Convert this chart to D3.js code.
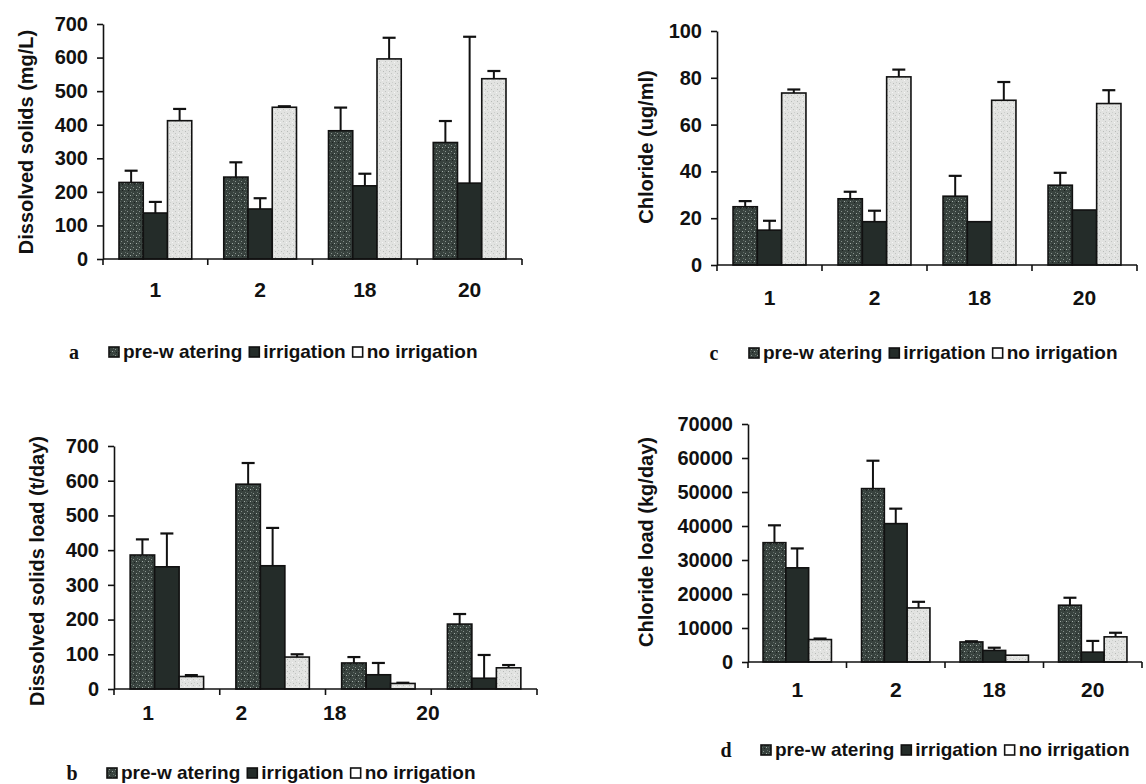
<!DOCTYPE html>
<html lang="en">
<head>
<meta charset="UTF-8">
<title>Dissolved solids and chloride at four stations</title>
<script src="https://d3js.org/d3.v7.min.js"></script>
<style>
  body { margin: 0; background: #fff; }
  text { font-family: "Liberation Sans", Arial, sans-serif; font-weight: bold; fill: #111; }
</style>
</head>
<body>
<div id="chart"></div>
<script>

// stations on the x axis and the three treatments
var stations = ["1", "2", "18", "20"];
var series = ["pre-watering", "irrigation", "no irrigation"];
var legendLabels = ["pre-w atering", "irrigation", "no irrigation"];

// a: dissolved solids (mg/L), mean and error bar length
var solidsPre = [228, 244, 382, 347];
var solidsPreErr = [35, 44, 69, 64];
var solidsIrr = [137, 149, 218, 226];
var solidsIrrErr = [33, 32, 36, 436];
var solidsNo = [412, 452, 596, 537];
var solidsNoErr = [35, 3, 63, 23];

// c: chloride (ug/ml)
var chlPre = [24.9, 28.3, 29.4, 34.1];
var chlPreErr = [2.4, 3.0, 8.7, 5.3];
var chlIrr = [14.9, 18.5, 18.5, 23.5];
var chlIrrErr = [4.0, 4.7, 0, 0];
var chlNo = [73.5, 80.4, 70.4, 69.0];
var chlNoErr = [1.5, 3.1, 7.8, 5.7];

// b: dissolved solids load (t/day)
var loadPre = [386, 590, 75, 187];
var loadPreErr = [45, 61, 17, 29];
var loadIrr = [352, 355, 41, 31];
var loadIrrErr = [96, 109, 34, 67];
var loadNo = [36, 92, 16, 61];
var loadNoErr = [4, 8, 2, 8];

// d: chloride load (kg/day)
var chlLoadPre = [35100, 51000, 5900, 16700];
var chlLoadPreErr = [5100, 8200, 200, 2200];
var chlLoadIrr = [27700, 40700, 3400, 2900];
var chlLoadIrrErr = [5700, 4400, 800, 3300];
var chlLoadNo = [6600, 15900, 2000, 7400];
var chlLoadNoErr = [300, 1800, 0, 1200];

var width = 1146, height = 784;

var svg = d3.select("#chart")
    .append("svg")
    .attr("width", width)
    .attr("height", height);

// speckled fills, like the scanned print
var defs = svg.append("defs");

function speckle(id, base, dots) {
    var p = defs.append("pattern")
        .attr("id", id)
        .attr("width", 6)
        .attr("height", 6)
        .attr("patternUnits", "userSpaceOnUse");
    p.append("rect").attr("width", 6).attr("height", 6).attr("fill", base);
    dots.forEach(function (d) {
        p.append("rect")
            .attr("x", d[0]).attr("y", d[1])
            .attr("width", 1).attr("height", 1)
            .attr("fill", d[2]);
    });
}

speckle("preFill", "#38423e", [[1, 1, "#8a948f"], [4, 3, "#a3ada8"], [2, 4, "#1c2220"], [5, 0, "#626d68"], [0, 3, "#56605b"]]);
speckle("noFill", "#e2e3e1", [[1, 1, "#c2c4c2"], [4, 2, "#f5f5f5"], [2, 4, "#cdd0cd"], [5, 5, "#b8bbb8"]]);

var fills = {"pre-watering": "url(#preFill)", "irrigation": "#242c29", "no irrigation": "url(#noFill)"};

var panels = [
    {left: 103, right: 522, top: 24, bottom: 259, max: 700, step: 100,
        title: "Dissolved solids (mg/L)", titleX: 26, titleY: 142, labelY: 297,
        means: [solidsPre, solidsIrr, solidsNo], errs: [solidsPreErr, solidsIrrErr, solidsNoErr],
        legend: {letter: "a", x: 74, y: 352}},
    {left: 717, right: 1137, top: 31, bottom: 265, max: 100, step: 20,
        title: "Chloride (ug/ml)", titleX: 646, titleY: 147, labelY: 305,
        means: [chlPre, chlIrr, chlNo], errs: [chlPreErr, chlIrrErr, chlNoErr],
        legend: {letter: "c", x: 714, y: 353}},
    {left: 114, right: 537, top: 446, bottom: 689, max: 700, step: 100,
        title: "Dissolved solids load (t/day)", titleX: 37, titleY: 571, labelY: 720,
        labelRange: [148, 428],
        means: [loadPre, loadIrr, loadNo], errs: [loadPreErr, loadIrrErr, loadNoErr],
        legend: {letter: "b", x: 72, y: 773}},
    {left: 748, right: 1142, top: 424, bottom: 662, max: 70000, step: 10000,
        title: "Chloride load (kg/day)", titleX: 646, titleY: 542, labelY: 697,
        means: [chlLoadPre, chlLoadIrr, chlLoadNo], errs: [chlLoadPreErr, chlLoadIrrErr, chlLoadNoErr],
        legend: {letter: "d", x: 726, y: 750}}
];

panels.forEach(drawPanel);

function drawPanel(p) {
    var g = svg.append("g");

    var x = d3.scaleBand().domain(stations).range([p.left, p.right]);
    var xs = d3.scaleBand().domain(series).range([0, x.bandwidth()]).paddingOuter(0.66);
    var y = d3.scaleLinear().domain([0, p.max]).range([p.bottom, p.top]);

    // bars
    series.forEach(function (s, i) {
        g.selectAll(null)
            .data(stations)
            .enter()
            .append("rect")
            .attr("x", function (st) { return x(st) + xs(s); })
            .attr("y", function (st, j) { return y(p.means[i][j]); })
            .attr("width", xs.bandwidth())
            .attr("height", function (st, j) { return p.bottom - y(p.means[i][j]); })
            .attr("fill", fills[s])
            .attr("stroke", "#111")
            .attr("stroke-width", 1.6);
    });

    // error bars (upper half only)
    series.forEach(function (s, i) {
        stations.forEach(function (st, j) {
            var e = p.errs[i][j];
            if (!e) return;
            var cx = x(st) + xs(s) + xs.bandwidth() / 2;
            var y0 = y(p.means[i][j]), y1 = y(p.means[i][j] + e);
            g.append("line")
                .attr("x1", cx).attr("x2", cx)
                .attr("y1", y0).attr("y2", y1)
                .attr("stroke", "#111").attr("stroke-width", 2);
            g.append("line")
                .attr("x1", cx - 6.5).attr("x2", cx + 6.5)
                .attr("y1", y1).attr("y2", y1)
                .attr("stroke", "#111").attr("stroke-width", 2.2);
        });
    });

    // y axis
    var ya = g.append("g")
        .attr("transform", "translate(" + p.left + ",0)")
        .call(d3.axisLeft(y)
            .tickValues(d3.range(0, p.max + 1, p.step))
            .tickSize(6)
            .tickSizeOuter(0)
            .tickPadding(9)
            .tickFormat(d3.format("d")));
    ya.attr("font-family", null).attr("font-size", null);
    ya.selectAll("text").style("font-size", "20px");
    ya.select(".domain").attr("stroke", "#111").attr("stroke-width", 1.6);
    ya.selectAll(".tick line").attr("stroke", "#111").attr("stroke-width", 1.6);

    // x axis with ticks between stations
    g.append("line")
        .attr("x1", p.left).attr("x2", p.right)
        .attr("y1", p.bottom).attr("y2", p.bottom)
        .attr("stroke", "#111").attr("stroke-width", 1.6);
    g.selectAll(null)
        .data(stations.map(function (st) { return x(st); }).concat([p.right]))
        .enter()
        .append("line")
        .attr("x1", function (d) { return d; }).attr("x2", function (d) { return d; })
        .attr("y1", p.bottom).attr("y2", p.bottom + 6)
        .attr("stroke", "#111").attr("stroke-width", 1.6);

    var lx = p.labelRange
        ? d3.scalePoint().domain(stations).range(p.labelRange)
        : function (st) { return x(st) + x.bandwidth() / 2; };

    g.selectAll(null)
        .data(stations)
        .enter()
        .append("text")
        .attr("x", function (st) { return lx(st); })
        .attr("y", p.labelY)
        .attr("text-anchor", "middle")
        .style("font-size", "21px")
        .text(function (st) { return st; });

    // axis title
    g.append("text")
        .attr("transform", "translate(" + p.titleX + "," + p.titleY + ") rotate(-90)")
        .attr("text-anchor", "middle")
        .attr("dy", "0.36em")
        .style("font-size", "20px")
        .text(p.title);

    drawLegend(p.legend);
}

function drawLegend(l) {
    var g = svg.append("g");
    g.append("text")
        .attr("x", l.x)
        .attr("y", l.y + 7)
        .attr("text-anchor", "middle")
        .style("font-family", "'Liberation Serif', 'Times New Roman', serif")
        .style("font-size", "20px")
        .text(l.letter);

    var cx = l.x + 35;
    series.forEach(function (s, i) {
        g.append("rect")
            .attr("x", cx).attr("y", l.y - 5)
            .attr("width", 10).attr("height", 10)
            .attr("fill", s === "no irrigation" ? "#fff" : fills[s])
            .attr("stroke", "#111").attr("stroke-width", 1.6);
        var t = g.append("text")
            .attr("x", cx + 14)
            .attr("y", l.y + 6)
            .style("font-size", "19px")
            .text(legendLabels[i]);
        cx += 14 + t.node().getComputedTextLength() + 7;
    });
}

</script>
</body>
</html>
